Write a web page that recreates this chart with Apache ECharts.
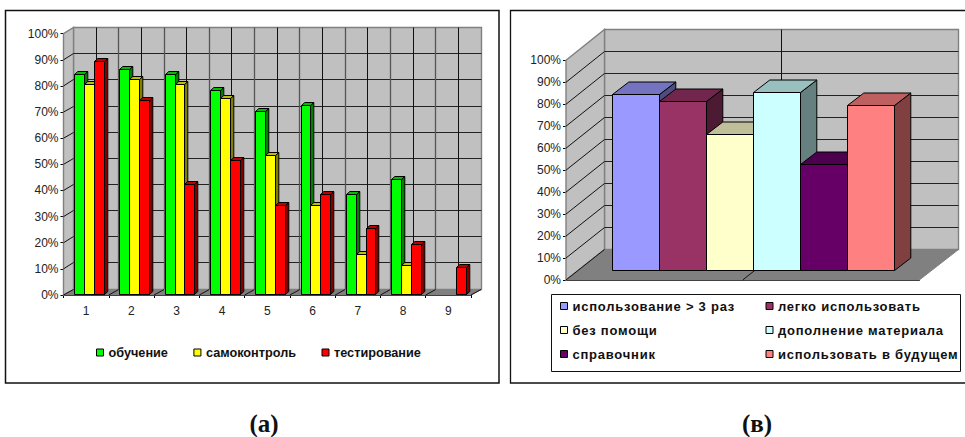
<!DOCTYPE html>
<html>
<head>
<meta charset="utf-8">
<style>
html,body{margin:0;padding:0;background:#fff}
#chart{width:965px;height:437px}
/* Wider tracking for the survey legend */
#chart text[fill="#101010"],#chart text[style*="rgb(16,16,16)"]{letter-spacing:.76px}
</style>
<script src="https://cdn.jsdelivr.net/npm/echarts@6/dist/echarts.min.js"></script>
</head>
<body>
<div id="chart"></div>
<script>
// Left chart: three course activities across nine groups
const groupLabels = ['1','2','3','4','5','6','7','8','9'];
const learningNames = ['обучение','самоконтроль','тестирование'];
const learningColors = ['#00ff00','#ffff00','#ff0000'];
const teaching = [84,86,84,78,70,72,38,44,null];
const selfCheck = [80,82,80,75,53,34,15,11,null];
const testing = [89,74,42,51,34,38,25,19,10];

// Right chart: six survey answers in a single group
const answerGroup = [''];
const answerNames = ['использование > 3 раз','легко использовать','без помощи','дополнение материала','справочник','использовать в будущем'];
const answerColors = ['#9999ff','#993366','#ffffcc','#ccffff','#660066','#ff8080'];
const answerValues = [80,77,62,81,48,75];

const percentTicks = [0,10,20,30,40,50,60,70,80,90,100];

// Projection of the pseudo-3D box, in pixels
const boxLeft = {wallDx:10, wallDy:-6, barDx:3.35, barDy:-1, depthDx:3.3, depthDy:-3, barShare:0.218};
const boxRight = {wallDx:38.7, wallDy:-31, barDx:10.9, barDy:-9.7, depthDx:16.3, depthDy:-12.5, barShare:0.1328};

// Snap to the pixel grid so one-pixel strokes stay crisp
const snap = v => Math.round(v - 0.5) + 0.5;

function shade(hex, k){
  const n = parseInt(hex.slice(1),16);
  const c = [n>>16&255, n>>8&255, n&255].map(v=>Math.round(v*k));
  return 'rgb('+c.join(',')+')';
}
function poly(pts, fill, stroke, w){
  return {type:'polygon', shape:{points:pts}, style:{fill:fill, stroke:stroke, lineWidth:w}, silent:true};
}
function line(a, b, stroke, w){
  return {type:'line', shape:{x1:a[0],y1:a[1],x2:b[0],y2:b[1]}, style:{stroke:stroke, lineWidth:w}, silent:true};
}

// Back wall, side wall, floor and grid, all derived from the axis scales
function wallRenderer(box, catCount, drawFloorEdges){
  return function(params, api){
    const dx = box.wallDx, dy = box.wallDy;
    const cw = api.size([1,0])[0];
    const xL = api.coord([0,0])[0]-cw/2, xR = xL+cw*catCount;
    const y0 = api.coord([0,0])[1], y1 = api.coord([0,100])[1];
    const ch = [];
    const bl = snap(xL+dx), br = snap(xR+dx), bt = snap(y1+dy), bb = snap(y0+dy);
    ch.push(poly([[bl,bt],[br,bt],[br,bb],[bl,bb]],'#c0c0c0','#808080',1.4));
    ch.push(poly([[xL,y1],[bl,bt],[bl,bb],[xL,y0]],'#c0c0c0','#808080',1.4));
    percentTicks.forEach(p=>{
      if(p===0||p===100) return;
      const y = api.coord([0,p])[1];
      ch.push(line([xL,y],[bl,snap(y+dy)],'#111',1));
      ch.push(line([bl,snap(y+dy)],[br,snap(y+dy)],'#222',1.2));
    });
    if(drawFloorEdges){
      for(let i=0;i<=catCount;i++){
        const xb = xL+i*cw+dx;
        if(i>0&&i<catCount) ch.push(line([snap(xb),bt],[snap(xb),bb],'#555',1.3));
        if(i<catCount) ch.push(line([snap(xb+cw/2),bt],[snap(xb+cw/2),bb],'#111',1));
      }
    } else {
      const xm = snap(xL+cw/2+dx);
      ch.push(line([xm,bt],[xm,bb],'#111',1));
    }
    ch.push(poly([[xL,y0],[xR,y0],[br,bb],[bl,bb]],'#808080','#808080',1));
    if(drawFloorEdges){
      for(let i=0;i<=catCount;i++){
        const xb = xL+i*cw;
        ch.push(line([xb,y0],[xb+dx,bb],'#111',1));
      }
    } else {
      const xm = xL+cw/2;
      ch.push(line([xm,y0],[xm+dx,bb],'#111',1));
      ch.push(line([xL,y0],[bl,bb],'#111',1));
    }
    return {type:'group', children:ch};
  };
}

// One box-shaped bar; seriesPos is its slot within the group
function barRenderer(box, seriesPos, seriesCount, color){
  return function(params, api){
    const v = api.value(1);
    if(v===null||isNaN(v)) return null;
    const cw = api.size([1,0])[0], w = cw*box.barShare;
    const top = api.coord([api.value(0),v]), base = api.coord([api.value(0),0]);
    const xRaw = top[0]+box.barDx+(seriesPos-seriesCount/2)*w;
    const x0 = snap(xRaw), x1 = snap(xRaw+w);
    const yT = snap(top[1]+box.barDy), yB = snap(base[1]+box.barDy);
    const ddx = box.depthDx, ddy = box.depthDy;
    return {type:'group', children:[
      poly([[x1,yT],[x1+ddx,yT+ddy],[x1+ddx,yB+ddy],[x1,yB]],shade(color,0.5),'#000',1),
      poly([[x0,yT],[x0+ddx,yT+ddy],[x1+ddx,yT+ddy],[x1,yT]],shade(color,0.75),'#000',1),
      poly([[x0,yT],[x1,yT],[x1,yB],[x0,yB]],color,'#000',1)
    ]};
  };
}

function percentAxis(idx){
  return {gridIndex:idx, type:'value', min:0, max:100, interval:10,
    splitLine:{show:false},
    axisLine:{show:true, lineStyle:{color:'#000',width:1}},
    axisTick:{show:true, length:3, lineStyle:{color:'#000'}},
    axisLabel:{formatter:'{value}%', fontFamily:'Liberation Sans', fontSize:12, color:'#222', margin:5}};
}

const series = [];
series.push({type:'custom', name:'_wallsA', xAxisIndex:0, yAxisIndex:0, clip:false, z:1, silent:true,
  data:[[0,0]], renderItem:wallRenderer(boxLeft, groupLabels.length, true)});
[teaching,selfCheck,testing].forEach((vals,i)=>{
  series.push({type:'custom', name:learningNames[i], xAxisIndex:0, yAxisIndex:0, clip:false, z:2+i,
    itemStyle:{color:learningColors[i]},
    encode:{x:0,y:1},
    data:vals.map((v,k)=>[k,v]),
    renderItem:barRenderer(boxLeft,i,3,learningColors[i])});
});
series.push({type:'custom', name:'_wallsB', xAxisIndex:1, yAxisIndex:1, clip:false, z:1, silent:true,
  data:[[0,0]], renderItem:wallRenderer(boxRight, answerGroup.length, false)});
answerValues.forEach((v,i)=>{
  series.push({type:'custom', name:answerNames[i], xAxisIndex:1, yAxisIndex:1, clip:false, z:2+i,
    itemStyle:{color:answerColors[i]},
    encode:{x:0,y:1},
    data:[[0,v]],
    renderItem:barRenderer(boxRight,i,6,answerColors[i])});
});

const legendBase = {icon:'rect', itemWidth:7, itemHeight:7, padding:0, selectedMode:false,
  itemStyle:{borderColor:'#000',borderWidth:1}};
const boldText = {fontFamily:'Liberation Sans', fontWeight:'bold', fontSize:12.7, color:'#111'};
const answerText = {fontFamily:'Liberation Sans', fontWeight:'bold', fontSize:13, color:'#101010'};
const captionText = {fontFamily:'Liberation Serif', fontWeight:'bold', fontSize:25, color:'#111'};

const chart = echarts.init(document.getElementById('chart'), null, {renderer:'svg'});
chart.setOption({
  animation:false,
  backgroundColor:'#fff',
  title:[
    {text:'(а)', left:264, top:411, textAlign:'center', padding:0, textStyle:captionText},
    {text:'(в)', left:757, top:411, textAlign:'center', padding:0, textStyle:captionText}
  ],
  grid:[
    {left:63.5, top:33.7, width:407.5, height:261.3},
    {left:566, top:60.3, width:353.3, height:219.7}
  ],
  xAxis:[
    {gridIndex:0, type:'category', data:groupLabels,
      axisLine:{lineStyle:{color:'#000',width:1.2}},
      axisTick:{show:true, length:3, lineStyle:{color:'#000'}},
      axisLabel:{fontFamily:'Liberation Sans', fontSize:12, color:'#222', margin:10}},
    {gridIndex:1, type:'category', data:answerGroup,
      axisLine:{lineStyle:{color:'#000',width:1.2}},
      axisTick:{show:false}, axisLabel:{show:false}}
  ],
  yAxis:[percentAxis(0), percentAxis(1)],
  legend:[
    Object.assign({},legendBase,{left:96, top:346, itemGap:25.5, orient:'horizontal', data:learningNames, textStyle:boldText}),
    Object.assign({},legendBase,{left:560, top:299.5, itemGap:11, orient:'vertical', z:10,
      data:[answerNames[0],answerNames[2],answerNames[4]], textStyle:answerText}),
    Object.assign({},legendBase,{left:765.5, top:299.5, itemGap:11, orient:'vertical', z:10,
      data:[answerNames[1],answerNames[3],answerNames[5]], textStyle:answerText})
  ],
  graphic:[
    {type:'rect', z:0, shape:{x:5.5,y:10.5,width:493.5,height:372.5}, style:{fill:'#fff',stroke:'#111',lineWidth:1.5}},
    {type:'polyline', z:0, shape:{points:[[965,10.5],[510.5,10.5],[510.5,383],[965,383]]}, style:{fill:null,stroke:'#111',lineWidth:1.3}},
    {type:'rect', z:0, shape:{x:551.5,y:294.5,width:409,height:77}, style:{fill:'#fff',stroke:'#111',lineWidth:1}}
  ],
  series:series
});
</script>
</body>
</html>
